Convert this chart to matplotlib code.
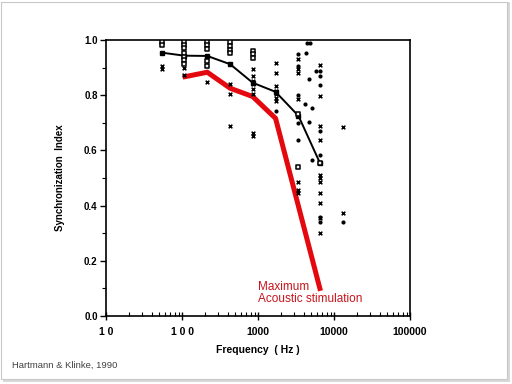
import numpy as np
import matplotlib
matplotlib.use("Agg")
import matplotlib.pyplot as plt
from matplotlib.patches import Rectangle
from matplotlib.ticker import FixedLocator, LogLocator, NullFormatter

plt.rcParams['font.family'] = ['Liberation Sans', 'DejaVu Sans']

# mean curve (black) and maximum acoustic stimulation curve (red)
mean_freq = [54, 107, 215, 430, 850, 1700, 3400, 6500]
mean_si = [0.954, 0.943, 0.942, 0.912, 0.845, 0.812, 0.725, 0.555]
max_freq = [110, 215, 430, 850, 1700, 6500]
max_si = [0.867, 0.883, 0.825, 0.795, 0.716, 0.10]

# single units: open squares
sq_freq = [54, 54, 107, 107, 107, 107, 107, 107, 107, 215, 215, 215, 215, 215,
           430, 430, 430, 430, 850, 850, 850, 3400, 3400, 6500]
sq_si = [0.993, 0.982, 0.993, 0.981, 0.969, 0.954, 0.939, 0.928, 0.912,
         0.993, 0.981, 0.966, 0.924, 0.906, 0.993, 0.978, 0.964, 0.954,
         0.960, 0.948, 0.936, 0.731, 0.541, 0.553]

# single units: crosses
x_freq = [54, 54, 107, 107, 215, 430, 430, 430,
          850, 850, 850, 850, 850, 850, 850, 850,
          1700, 1700, 1700, 1700, 1700, 1700, 1700,
          3400, 3400, 3400, 3400, 3400, 3400, 3400,
          6500, 6500, 6500, 6500, 6500, 6500, 6500, 6500, 6500, 6500, 6500,
          13200, 13200]
x_si = [0.906, 0.895, 0.900, 0.872, 0.849, 0.839, 0.803, 0.688,
        0.894, 0.870, 0.851, 0.839, 0.821, 0.803, 0.664, 0.652,
        0.918, 0.882, 0.833, 0.815, 0.803, 0.791, 0.779,
        0.930, 0.894, 0.882, 0.785, 0.487, 0.457, 0.445,
        0.909, 0.797, 0.688, 0.638, 0.511, 0.499, 0.487, 0.445, 0.408, 0.354, 0.300,
        0.686, 0.372]

# single units: dots
dot_freq = [1700, 3400, 3400, 3400, 3400, 3400,
            6500, 6500, 6500, 6500, 6500, 6500, 6500,
            4370, 4830, 4260, 4730, 4150, 5090, 4730, 5090, 5800, 13200]
dot_si = [0.743, 0.948, 0.906, 0.800, 0.700, 0.638,
          0.888, 0.870, 0.836, 0.670, 0.583, 0.360, 0.342,
          0.988, 0.988, 0.954, 0.860, 0.767, 0.755, 0.703, 0.565, 0.888, 0.339]

x_ticks = [10, 100, 1000, 10000, 100000]
x_ticklabels = ["1 0", "1 0 0", "1000", "10000", "100000"]
y_ticks = [0.0, 0.2, 0.4, 0.6, 0.8, 1.0]

fig = plt.figure(figsize=(5.12, 3.84), dpi=100)
fig.patch.set_facecolor("white")
# slide frame with soft shadow
fig.patches.append(Rectangle((0.006, 0.004), 0.99, 0.99, transform=fig.transFigure,
                             facecolor="#d8d8d8", edgecolor="none", zorder=-3))
fig.patches.append(Rectangle((0.002, 0.012), 0.988, 0.984, transform=fig.transFigure,
                             facecolor="white", edgecolor="#c8c8c8", lw=0.8, zorder=-2))

ax = fig.add_axes([0.207, 0.177, 0.594, 0.719])
ax.set_facecolor("none")
ax.set_xscale("log")
ax.set_xlim(10, 100000)
ax.set_ylim(0, 1.0)

ax.plot(max_freq, max_si, color="#e3090f", lw=3.6, solid_joinstyle="miter", zorder=2)
ax.plot(mean_freq, mean_si, color="black", lw=1.4, marker="s", ms=3.5, zorder=3)
ax.scatter(sq_freq, sq_si, marker="s", s=5, facecolor="#f0f0f0", edgecolor="black", lw=1.1, zorder=4)
ax.scatter(x_freq, x_si, marker="x", s=7, color="black", lw=1.1, zorder=4)
ax.scatter(dot_freq, dot_si, marker="o", s=9, color="black", lw=0, zorder=4)

ax.text(1000, 0.128, "Maximum\nAcoustic stimulation", color="#c8141c", fontsize=8.5,
        ha="left", va="top", linespacing=1.0)

ax.xaxis.set_major_locator(FixedLocator(x_ticks))
ax.set_xticklabels(x_ticklabels, fontsize=7.5, fontweight="bold")
ax.xaxis.set_minor_locator(LogLocator(base=10, subs=np.arange(2, 10)))
ax.xaxis.set_minor_formatter(NullFormatter())
ax.set_yticks(y_ticks)
ax.set_yticklabels([f"{v:.1f}" for v in y_ticks], fontsize=7, fontweight="bold")
ax.set_yticks(np.arange(0.1, 1.0, 0.2), minor=True)

ax.tick_params(axis="x", which="major", direction="inout", length=6, width=1, pad=5)
ax.tick_params(axis="x", which="minor", direction="in", length=3, width=0.8)
ax.tick_params(axis="y", which="major", direction="out", length=4, width=1, pad=2)
ax.tick_params(axis="y", which="minor", direction="out", length=3, width=0.8)
for s in ax.spines.values():
    s.set_linewidth(1.2)

ax.set_xlabel("Frequency  ( Hz )", fontsize=7.5, fontweight="bold", labelpad=6)
ax.set_ylabel("Synchronization  Index", fontsize=7, fontweight="bold", labelpad=14)

fig.text(0.023, 0.042, "Hartmann & Klinke, 1990", fontsize=6.8, color="#404040")

fig.savefig("out.png", dpi=100)
